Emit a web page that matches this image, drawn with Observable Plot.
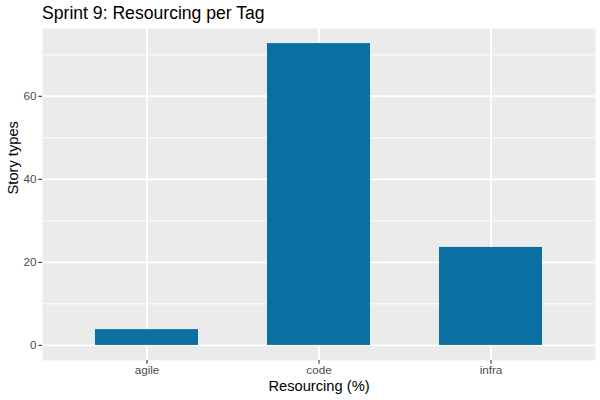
<!DOCTYPE html>
<html>
<head>
<meta charset="utf-8">
<script src="https://cdn.jsdelivr.net/npm/d3@7"></script>
<script src="https://cdn.jsdelivr.net/npm/@observablehq/plot@0.6"></script>
<style>
  body { margin: 0; background: #fff; font-family: "Liberation Sans", Arial, sans-serif; }
  #title { position: relative; height: 28px; width: 600px; }
  #title span { position: absolute; left: 42px; top: 4.5px; font-size: 17.6px; line-height: 1; color: #000; white-space: nowrap; }
  svg { display: block; }
</style>
</head>
<body>
<div id="title"><span>Sprint 9: Resourcing per Tag</span></div>
<div id="chart"></div>
<script>
const tags = ["agile", "code", "infra"];
const values = [3.8, 72.7, 23.6];
const yMajor = [0, 20, 40, 60];
const yMinor = [10, 30, 50, 70];
const xTitle = "Resourcing (%)";
const yTitle = "Story types";

const data = tags.map((t, i) => ({tag: t, value: values[i]}));
const yMax = d3.max(values);
const pad = yMax * 0.05;

const chart = Plot.plot({
  width: 600,
  height: 372,
  marginTop: 0,
  marginBottom: 40,
  marginLeft: 42,
  marginRight: 5,
  style: {fontFamily: "'Liberation Sans', Arial, sans-serif", background: "#fff"},
  x: {type: "band", domain: tags, paddingInner: 0.4, paddingOuter: 0.3, axis: null},
  y: {domain: [-pad, yMax + pad], axis: null},
  marks: [
    Plot.frame({fill: "#EBEBEB", stroke: null}),
    Plot.ruleY(yMinor, {stroke: "white", strokeWidth: 0.95}),
    Plot.ruleY(yMajor, {stroke: "white", strokeWidth: 1.9}),
    Plot.gridX({stroke: "white", strokeOpacity: 1, strokeWidth: 1.9}),
    Plot.barY(data, {x: "tag", y: "value", fill: "#0B6FA1"}),
    Plot.axisX({tickSize: 3.7, tickPadding: 1, fontSize: 11.7, stroke: "#333333", fill: "#4D4D4D", strokeWidth: 1.1, label: null}),
    Plot.axisY(yMajor, {tickSize: 3.7, tickPadding: 2.3, fontSize: 11.7, stroke: "#333333", fill: "#4D4D4D", strokeWidth: 1.1, label: null}),
    Plot.text([xTitle], {text: d => d, frameAnchor: "bottom", lineAnchor: "bottom", dy: 30.6, fontSize: 14.7, fill: "#000"}),
    Plot.text([yTitle], {text: d => d, frameAnchor: "left", lineAnchor: "bottom", rotate: -90, dx: -24.7, fontSize: 14.7, fill: "#000"})
  ]
});
document.getElementById("chart").appendChild(chart);
</script>
</body>
</html>
